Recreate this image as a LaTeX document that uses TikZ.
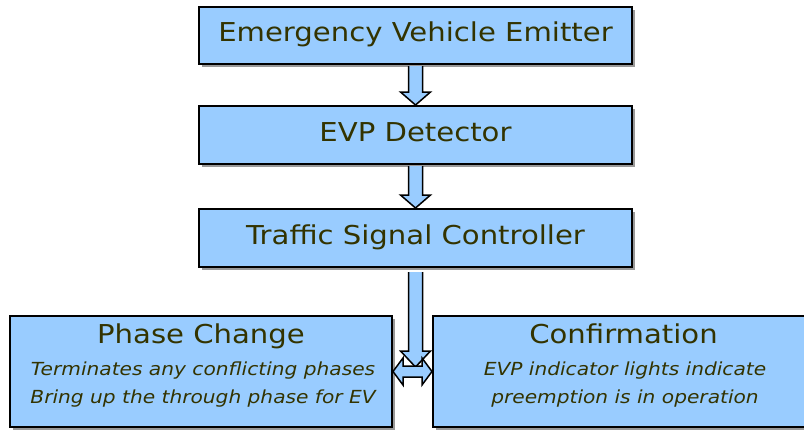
\documentclass[tikz,border=0pt]{standalone}
\usepackage{fontspec}
\setmainfont[FakeStretch=1.12]{DejaVu Sans}
\newfontfamily\itfont[FakeStretch=1.12,FakeSlant=0.2]{DejaVu Sans}
\usetikzlibrary{calc,shadows}
\definecolor{boxblue}{RGB}{153,204,255}
\definecolor{txt}{RGB}{51,51,0}
\begin{document}
\begin{tikzpicture}[x=1pt,y=-1pt,
  box/.style={draw=black,line width=2pt,fill=boxblue,inner sep=0pt,
    drop shadow={shadow xshift=3pt,shadow yshift=-3pt,fill=black,opacity=0.4}},
  title/.style={anchor=base,text=txt,font=\fontsize{26}{26}\selectfont,inner sep=0pt},
  sub/.style={anchor=base,text=txt,font=\fontsize{18}{18}\selectfont\itshape,inner sep=0pt},
  blockarrow/.style={draw=black,line width=1.5pt,fill=boxblue,line join=miter}]
\useasboundingbox (0,0) rectangle (804,429);
% boxes
\node[box,minimum width=433pt,minimum height=57pt] (b1) at (415.5,35.5) {};
\node[box,minimum width=433pt,minimum height=58pt] (b2) at (415.5,135) {};
\node[box,minimum width=433pt,minimum height=58pt] (b3) at (415.5,238) {};
\node[box,minimum width=382pt,minimum height=111pt] (b4) at (201,371.5) {};
\node[box,minimum width=381pt,minimum height=111pt] (b5) at (623.5,371.5) {};
% texts
\node[title] (t1) at (415.5,41) {Emergency Vehicle Emitter};
\node[title] (t2) at (415.5,141) {EVP Detector};
\node[title] (t3) at (415.5,244) {Traffic Signal Controller};
\node[title] (t4) at (201,343) {Phase Change};
\node[sub] (t4a) at (203,375) {Terminates any conflicting phases};
\node[sub] (t4b) at (203,403) {Bring up the through phase for EV};
\node[title] (t5) at (623.5,343) {Confirmation};
\node[sub] (t5a) at (625,375) {EVP indicator lights indicate};
\node[sub] (t5b) at (625,403) {preemption is in operation};
% arrows
\draw[blockarrow] ($(b1.south)+(-7,1)$) -- ($(b2.north)+(-7,-13)$) -- ($(b2.north)+(-15,-13)$)
  -- (b2.north) -- ($(b2.north)+(15,-13)$) -- ($(b2.north)+(7,-13)$) -- ($(b1.south)+(7,1)$);
\draw[blockarrow] ($(b2.south)+(-7,1)$) -- ($(b3.north)+(-7,-13)$) -- ($(b3.north)+(-15,-13)$)
  -- (b3.north) -- ($(b3.north)+(15,-13)$) -- ($(b3.north)+(7,-13)$) -- ($(b2.south)+(7,1)$);
\coordinate (j) at ($(b3.south)+(0,99)$);
\draw[blockarrow] ($(b3.south)+(-7,4)$) -- ($(j)+(-7,-16)$) -- ($(j)+(-15,-16)$)
  -- (j) -- ($(j)+(15,-16)$) -- ($(j)+(7,-16)$) -- ($(b3.south)+(7,4)$);
\draw[blockarrow] (b4.east) -- ($(b4.east)+(10,-13.5)$) -- ($(b4.east)+(10,-5.5)$)
  -- ($(b5.west)+(-10,-5.5)$) -- ($(b5.west)+(-10,-13.5)$) -- (b5.west)
  -- ($(b5.west)+(-10,13.5)$) -- ($(b5.west)+(-10,5.5)$) -- ($(b4.east)+(10,5.5)$)
  -- ($(b4.east)+(10,13.5)$) -- cycle;
\end{tikzpicture}
\end{document}
